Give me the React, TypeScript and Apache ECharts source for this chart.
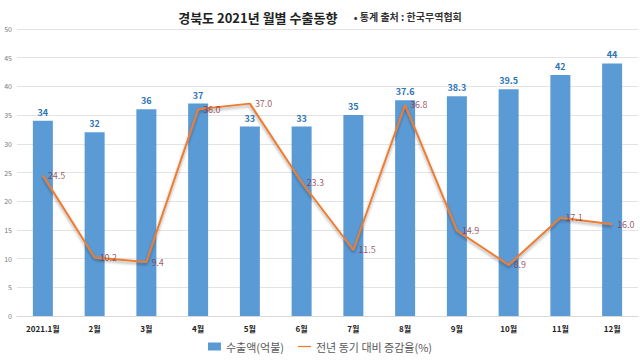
import React, { useEffect, useRef } from "react";
import * as echarts from "echarts";

const categories = ["2021.1월", "2월", "3월", "4월", "5월", "6월", "7월", "8월", "9월", "10월", "11월", "12월"];
const exportValues = [34, 32, 36, 37, 33, 33, 35, 37.6, 38.3, 39.5, 42, 44];
const growthRates = [24.5, 10.2, 9.4, 36.0, 37.0, 23.3, 11.5, 36.8, 14.9, 8.9, 17.1, 16.0];
const yTicks = { min: 0, max: 50, interval: 5 };

const FONT = "'Noto Sans CJK KR', 'Noto Sans', sans-serif";

export default function App() {
  const ref = useRef<HTMLDivElement>(null);
  useEffect(() => {
    const chart = echarts.init(ref.current!, null, { renderer: "svg" });
    chart.setOption({
      animation: false,
      backgroundColor: "#fff",
      textStyle: { fontFamily: FONT },
      title: {
        text: "{a|경북도 2021년 월별 수출동향}    {b|• 통계 출처 : 한국무역협회}",
        left: "center",
        top: 3,
        textStyle: {
          rich: {
            a: { fontSize: 13, fontWeight: "bold", color: "#222", fontFamily: FONT },
            b: { fontSize: 10, fontWeight: "bold", color: "#333", fontFamily: FONT },
          },
        },
      },
      legend: {
        bottom: 6,
        left: "center",
        itemWidth: 13,
        itemHeight: 8,
        itemGap: 14,
        textStyle: { fontSize: 11, color: "#595959", fontFamily: FONT },
        data: [
          { name: "수출액(억불)", icon: "rect" },
          { name: "전년 동기 대비 증감율(%)", icon: "path://M0,0 H20 V2 H0 Z" },
        ],
      },
      grid: { left: 17, right: 2, top: 29, bottom: 47, containLabel: false },
      xAxis: {
        type: "category",
        data: categories,
        axisLine: { lineStyle: { color: "#D9D9D9" } },
        axisTick: { show: false },
        axisLabel: { fontSize: 8, fontWeight: "bold", color: "#222", margin: 8, fontFamily: FONT },
      },
      yAxis: {
        type: "value",
        min: yTicks.min,
        max: yTicks.max,
        interval: yTicks.interval,
        axisLine: { show: false },
        axisTick: { show: false },
        splitLine: { lineStyle: { color: "#E3E3E3" } },
        axisLabel: { fontSize: 7, color: "#777", margin: 5, fontFamily: FONT },
      },
      series: [
        {
          name: "수출액(억불)",
          type: "bar",
          data: exportValues,
          barWidth: 20,
          itemStyle: { color: "#5B9BD5" },
          label: {
            show: true,
            position: "top",
            distance: 4,
            fontSize: 9,
            fontWeight: "bold",
            color: "#2E75B6",
            fontFamily: FONT,
          },
        },
        {
          name: "전년 동기 대비 증감율(%)",
          type: "line",
          data: growthRates,
          symbol: "none",
          z: 3,
          lineStyle: {
            color: "#ED7D31",
            width: 2,
            shadowColor: "rgba(0,0,0,0.35)",
            shadowBlur: 3,
            shadowOffsetY: 2,
          },
          itemStyle: { color: "#ED7D31" },
        },
        {
          name: "labels",
          type: "scatter",
          data: growthRates,
          symbolSize: 0,
          z: 4,
          itemStyle: { color: "transparent" },
          label: {
            show: true,
            position: "right",
            distance: 5,
            fontSize: 9,
            color: "#842F3E",
            fontFamily: FONT,
            formatter: (p: any) => Number(p.value).toFixed(1),
          },
        },
      ],
    });
    return () => chart.dispose();
  }, []);
  return <div ref={ref} style={{ width: 640, height: 363, position: "absolute", left: 0, top: 0 }} />;
}
